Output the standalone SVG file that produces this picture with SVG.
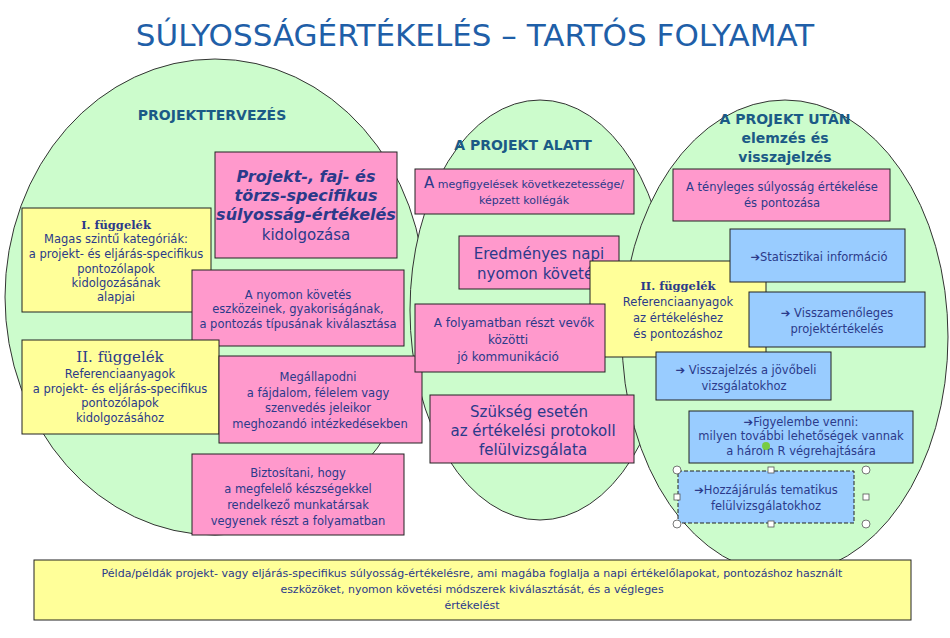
<svg xmlns="http://www.w3.org/2000/svg" width="950" height="638" viewBox="0 0 950 638">
<style>
text{font-family:"DejaVu Sans",Verdana,sans-serif;fill:#2b3a8a;text-anchor:middle}
.el{fill:#ccfccc;stroke:#333;stroke-width:1}
.p{fill:#ff99cc;stroke:#222;stroke-width:1}
.y{fill:#ffff99;stroke:#222;stroke-width:1}
.b{fill:#99ccff;stroke:#222;stroke-width:1}
.h{font-weight:bold;fill:#1b5a86}
.s{font-size:11.5px}
.m{font-size:15px}
.hd{fill:#fff;stroke:#555;stroke-width:0.8}
</style>
<text x="475" y="46" style="font-size:31px;fill:#1f5fa8">SÚLYOSSÁGÉRTÉKELÉS – TARTÓS FOLYAMAT</text>
<g id="ellipses">
<ellipse class="el" cx="215" cy="297" rx="210" ry="238"/>
<ellipse class="el" cx="540" cy="310" rx="130" ry="210"/>
<ellipse class="el" cx="785" cy="337" rx="163" ry="237"/>
</g>
<g id="headers">
<text class="h" x="212" y="120" style="font-size:14px">PROJEKTTERVEZÉS</text>
<text class="h" x="523" y="150" style="font-size:14px">A PROJEKT ALATT</text>
<text class="h" x="785" y="124" style="font-size:14px">A PROJEKT UTÁN</text>
<text class="h" x="785" y="143" style="font-size:14px">elemzés és</text>
<text class="h" x="785" y="162" style="font-size:14px">visszajelzés</text>
</g>
<g id="n1"><rect class="p" x="215" y="152" width="182" height="106"/>
<text x="306" y="182" style="font-size:16px;font-style:italic;font-weight:bold">Projekt-, faj- és</text>
<text x="306" y="201" style="font-size:16px;font-style:italic;font-weight:bold">törzs-specifikus</text>
<text x="306" y="220" style="font-size:16px;font-style:italic;font-weight:bold">súlyosság-értékelés</text>
<text x="306" y="240" class="m">kidolgozása</text></g>
<g id="n2"><rect class="y" x="22" y="208" width="189" height="104"/>
<text x="116" y="229" class="s" style="font-weight:bold;font-family:'DejaVu Serif',serif">I. függelék</text>
<text x="116" y="243" class="s">Magas szintű kategóriák:</text>
<text x="116" y="258" class="s">a projekt- és eljárás-specifikus</text>
<text x="116" y="273" class="s">pontozólapok</text>
<text x="116" y="287" class="s">kidolgozásának</text>
<text x="116" y="301" class="s">alapjai</text></g>
<g id="n3"><rect class="p" x="192" y="270" width="212" height="76"/>
<text x="298" y="299" class="s">A nyomon követés</text>
<text x="298" y="313" class="s">eszközeinek, gyakoriságának,</text>
<text x="298" y="328" class="s">a pontozás típusának kiválasztása</text></g>
<g id="n4"><rect class="y" x="22" y="340" width="197" height="94"/>
<text x="120" y="362" style="font-size:15px;font-family:'DejaVu Serif',serif">II.  függelék</text>
<text x="120" y="378" class="s">Referenciaanyagok</text>
<text x="120" y="393" class="s">a projekt- és eljárás-specifikus</text>
<text x="120" y="407" class="s">pontozólapok</text>
<text x="120" y="422" class="s">kidolgozásához</text></g>
<g id="n5"><rect class="p" x="219" y="356" width="203" height="87"/>
<text x="318" y="381" class="s">Megállapodni</text>
<text x="318" y="397" class="s">a fájdalom,  félelem  vagy</text>
<text x="318" y="412" class="s">szenvedés jeleikor</text>
<text x="320" y="428" class="s">meghozandó  intézkedésekben</text></g>
<g id="n6"><rect class="p" x="192" y="454" width="212" height="81"/>
<text x="298" y="477" class="s">Biztosítani,  hogy</text>
<text x="298" y="493" class="s">a megfelelő  készségekkel</text>
<text x="298" y="509" class="s">rendelkező  munkatársak</text>
<text x="298" y="525" class="s">vegyenek részt a folyamatban</text></g>
<g id="n7"><rect class="p" x="415" y="169" width="219" height="45"/>
<text x="524" y="188" style="font-size:11px"><tspan style="font-size:15px">A</tspan> megfigyelések következetessége/</text>
<text x="524" y="204" style="font-size:11px">képzett kollégák</text></g>
<g id="n8"><rect class="p" x="459" y="236" width="160" height="53"/>
<text x="539" y="259" class="m">Eredményes napi</text>
<text x="539" y="279" class="m">nyomon követés</text></g>
<g id="n9"><rect class="y" x="590" y="261" width="176" height="96"/>
<text x="678" y="290" class="s" style="font-weight:bold;font-family:'DejaVu Serif',serif">II.  függelék</text>
<text x="678" y="306" class="s">Referenciaanyagok</text>
<text x="678" y="322" class="s">az értékeléshez</text>
<text x="678" y="338" class="s">és pontozáshoz</text></g>
<g id="n10"><rect class="p" x="415" y="304" width="190" height="68"/>
<text x="514" y="327" style="font-size:12px">A folyamatban  részt vevők</text>
<text x="508" y="344" style="font-size:12px">közötti</text>
<text x="508" y="361" style="font-size:12px">jó kommunikáció</text></g>
<g id="n11"><rect class="p" x="430" y="395" width="204" height="68"/>
<text x="529" y="417" class="m">Szükség esetén</text>
<text x="533" y="436" class="m">az értékelési protokoll</text>
<text x="533" y="455" class="m">felülvizsgálata</text></g>
<g id="n12"><rect class="p" x="673" y="169" width="217" height="52"/>
<text x="782" y="191" class="s">A  tényleges  súlyosság  értékelése</text>
<text x="782" y="207" class="s">és  pontozása</text></g>
<g id="n13"><rect class="b" x="730" y="229" width="175" height="53"/>
<text x="819" y="261" class="s">➔Statisztikai  információ</text></g>
<g id="n14"><rect class="b" x="749" y="292" width="176" height="55"/>
<text x="837" y="317" class="s">➔  Visszamenőleges</text>
<text x="837" y="333" class="s">projektértékelés</text></g>
<g id="n15"><rect class="b" x="656" y="352" width="175" height="48"/>
<text x="746" y="374" class="s">➔  Visszajelzés  a  jövőbeli</text>
<text x="744" y="390" class="s">vizsgálatokhoz</text></g>
<g id="n16"><rect class="b" x="689" y="411" width="224" height="52"/>
<text x="801" y="426" class="s">➔Figyelembe venni:</text>
<text x="801" y="440" class="s">milyen további lehetőségek vannak</text>
<text x="801" y="455" class="s">a három R végrehajtására</text></g>
<g id="n17"><rect class="b" x="678" y="471" width="176" height="52" style="stroke-dasharray:4 2"/>
<text x="766" y="494" class="s">➔Hozzájárulás   tematikus</text>
<text x="766" y="510" class="s">felülvizsgálatokhoz</text>
<circle class="hd" cx="677" cy="470" r="4"/><circle class="hd" cx="866" cy="470" r="4"/>
<circle class="hd" cx="677" cy="524" r="4"/><circle class="hd" cx="866" cy="524" r="4"/>
<rect class="hd" x="768" y="467" width="6" height="6"/><rect class="hd" x="768" y="521" width="6" height="6"/>
<rect class="hd" x="674" y="494" width="6" height="6"/><rect class="hd" x="863" y="494" width="6" height="6"/>
<circle cx="766" cy="446" r="4" fill="#7c4"/></g>
<g id="n18"><rect class="y" x="34" y="560" width="877" height="60"/>
<text x="472" y="577" style="font-size:11px">Példa/példák projekt- vagy eljárás-specifikus súlyosság-értékelésre, ami magába foglalja a napi értékelőlapokat, pontozáshoz használt</text>
<text x="472" y="593" style="font-size:11px">eszközöket, nyomon követési módszerek kiválasztását, és a végleges</text>
<text x="472" y="609" style="font-size:11px">értékelést</text></g>
<g id="connectors"/>
</svg>
